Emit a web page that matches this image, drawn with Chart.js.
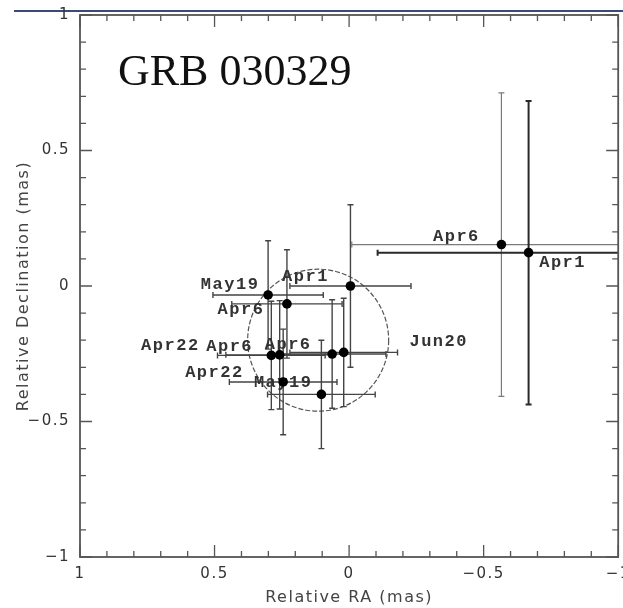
<!DOCTYPE html>
<html>
<head>
<meta charset="utf-8">
<script src="https://cdn.jsdelivr.net/npm/chart.js@4.4.1/dist/chart.umd.min.js"></script>
<style>
  html, body { margin: 0; padding: 0; background: #fff; }
  #wrap { position: relative; width: 623px; height: 608px; }
</style>
</head>
<body>
<div id="wrap"><canvas id="positionChart"></canvas></div>
<script>
// VLBI positions of the afterglow, offsets relative to the reference point (mas)
const epochs     = ['Apr6', 'Apr1', 'Apr1', 'May19', 'Apr6', 'Apr22', 'Apr6', 'Apr6', 'Jun20', 'May19', 'Apr22'];
const raOffsets  = [-0.566, -0.667, -0.005, 0.301, 0.231, 0.289, 0.258, 0.063, 0.020, 0.245, 0.103];
const decOffsets = [0.153, 0.123, 0.000, -0.033, -0.066, -0.256, -0.254, -0.251, -0.245, -0.354, -0.400];
const raErrors   = [0.556, 0.561, 0.225, 0.205, 0.205, 0.200, 0.200, 0.200, 0.200, 0.200, 0.200];
const decErrors  = [0.560, 0.560, 0.300, 0.200, 0.200, 0.200, 0.200, 0.200, 0.200, 0.195, 0.200];
const axisTicks  = [-1, -0.5, 0, 0.5, 1];
// fitted source region
const regionCentre = { ra: 0.115, dec: -0.200 };
const regionRadius = 0.262;

// where each epoch label sits relative to its point (px)
const labelOffsets = [[-45, -8], [34, 10], [-45, -9], [-38, -10], [-46, 6], [-101, -10],
                      [-50, -8], [-44, -9], [95, -11], [0, 1], [-107, -22]];
// bar styles: the two early wide-field points stand out
const barColors = ['#7a7a7a', '#2a2a2a', '#444', '#444', '#444', '#444', '#444', '#444', '#444', '#444', '#444'];
const barWidths = [1.2, 2, 1.4, 1.4, 1.4, 1.4, 1.4, 1.4, 1.4, 1.4, 1.4];

function fmt(v) {
  return v === 0 ? '0' : String(v).replace('-', '\u2212');
}

const plotDecor = {
  id: 'plotDecor',
  beforeDraw(chart) {
    const ctx = chart.ctx;
    ctx.letterSpacing = '1.5px';
    ctx.save();
    ctx.strokeStyle = '#3d4a78';
    ctx.lineWidth = 2;
    ctx.beginPath();
    ctx.moveTo(14, 11);
    ctx.lineTo(chart.width, 11);
    ctx.stroke();
    ctx.restore();
  },
  beforeDatasetsDraw(chart) {
    const ctx = chart.ctx;
    const xs = chart.scales.x, ys = chart.scales.y;
    const a = chart.chartArea;
    ctx.save();
    ctx.beginPath();
    ctx.rect(a.left, a.top, a.right - a.left, a.bottom - a.top);
    ctx.clip();

    // source region
    const cx = xs.getPixelForValue(regionCentre.ra);
    const cy = ys.getPixelForValue(regionCentre.dec);
    const rx = Math.abs(xs.getPixelForValue(regionCentre.ra + regionRadius) - cx);
    const ry = Math.abs(ys.getPixelForValue(regionCentre.dec + regionRadius) - cy);
    ctx.strokeStyle = '#555';
    ctx.lineWidth = 1.2;
    ctx.setLineDash([5, 2]);
    ctx.beginPath();
    ctx.ellipse(cx, cy, rx, ry, 0, 0, Math.PI * 2);
    ctx.stroke();
    ctx.setLineDash([]);

    // error bars with small end caps
    const cap = 3;
    for (let i = 0; i < epochs.length; i++) {
      const px = xs.getPixelForValue(raOffsets[i]);
      const py = ys.getPixelForValue(decOffsets[i]);
      const xa = xs.getPixelForValue(raOffsets[i] + raErrors[i]);
      const xb = xs.getPixelForValue(raOffsets[i] - raErrors[i]);
      const ya = ys.getPixelForValue(decOffsets[i] + decErrors[i]);
      const yb = ys.getPixelForValue(decOffsets[i] - decErrors[i]);
      ctx.strokeStyle = barColors[i];
      ctx.lineWidth = barWidths[i];
      ctx.beginPath();
      ctx.moveTo(xa, py); ctx.lineTo(xb, py);
      ctx.moveTo(xa, py - cap); ctx.lineTo(xa, py + cap);
      ctx.moveTo(xb, py - cap); ctx.lineTo(xb, py + cap);
      ctx.moveTo(px, ya); ctx.lineTo(px, yb);
      ctx.moveTo(px - cap, ya); ctx.lineTo(px + cap, ya);
      ctx.moveTo(px - cap, yb); ctx.lineTo(px + cap, yb);
      ctx.stroke();
    }

    // epoch labels
    ctx.fillStyle = '#333';
    ctx.font = 'bold 17px "Liberation Mono"';
    ctx.textAlign = 'center';
    ctx.textBaseline = 'middle';
    for (let i = 0; i < epochs.length; i++) {
      const px = xs.getPixelForValue(raOffsets[i]);
      const py = ys.getPixelForValue(decOffsets[i]);
      ctx.fillText(epochs[i], px + labelOffsets[i][0], py + labelOffsets[i][1]);
    }
    ctx.restore();
  },
  afterDatasetsDraw(chart) {
    const ctx = chart.ctx;
    const xs = chart.scales.x, ys = chart.scales.y;
    const a = chart.chartArea;
    ctx.save();
    ctx.strokeStyle = '#555';
    ctx.lineWidth = 1.8;
    ctx.strokeRect(a.left, a.top, a.right - a.left, a.bottom - a.top);

    // inward ticks on all four sides, minor every 0.1
    ctx.lineWidth = 1.3;
    ctx.beginPath();
    for (let k = -10; k <= 10; k++) {
      const v = k / 10;
      const len = (k % 5 === 0) ? 12 : 6;
      const x = xs.getPixelForValue(v);
      const y = ys.getPixelForValue(v);
      ctx.moveTo(x, a.bottom); ctx.lineTo(x, a.bottom - len);
      ctx.moveTo(x, a.top);    ctx.lineTo(x, a.top + len);
      ctx.moveTo(a.left, y);   ctx.lineTo(a.left + len, y);
      ctx.moveTo(a.right, y);  ctx.lineTo(a.right - len, y);
    }
    ctx.stroke();

    ctx.letterSpacing = '0px';
    ctx.fillStyle = '#111';
    ctx.font = '44px "Liberation Serif"';
    ctx.textAlign = 'left';
    ctx.textBaseline = 'alphabetic';
    ctx.fillText('GRB 030329', a.left + 38, a.top + 70);
    ctx.restore();
  }
};

function fixTicks(scale) {
  scale.ticks = axisTicks.map(v => ({ value: v }));
}

new Chart(document.getElementById('positionChart'), {
  type: 'scatter',
  data: {
    datasets: [{
      data: raOffsets.map((ra, i) => ({ x: ra, y: decOffsets[i] })),
      backgroundColor: '#000',
      borderWidth: 0,
      pointRadius: 4.8,
      pointHoverRadius: 4.8
    }]
  },
  options: {
    responsive: true,
    maintainAspectRatio: false,
    animation: false,
    layout: { padding: { left: 0, right: 4, top: 15, bottom: 0 } },
    plugins: { legend: { display: false }, tooltip: { enabled: false } },
    scales: {
      x: {
        type: 'linear',
        min: -1, max: 1,
        reverse: true,
        afterBuildTicks: fixTicks,
        afterFit(scale) { scale.height = 51; scale.paddingLeft = 0; scale.paddingRight = 0; },
        grid: { display: false, drawTicks: false },
        border: { display: false },
        ticks: {
          padding: 8,
          color: '#333',
          font: { family: '"DejaVu Sans"', size: 15 },
          callback: fmt,
          maxRotation: 0,
          autoSkip: false
        },
        title: {
          display: true,
          text: 'Relative RA (mas)',
          color: '#444',
          font: { family: '"DejaVu Sans"', size: 16 },
          padding: { top: 0, bottom: 1 }
        }
      },
      y: {
        type: 'linear',
        min: -1, max: 1,
        afterBuildTicks: fixTicks,
        afterFit(scale) { scale.width = 80; scale.paddingTop = 0; scale.paddingBottom = 0; },
        grid: { display: false, drawTicks: false },
        border: { display: false },
        ticks: {
          padding: 10,
          color: '#333',
          font: { family: '"DejaVu Sans"', size: 15 },
          callback: fmt,
          autoSkip: false
        },
        title: {
          display: true,
          text: 'Relative Declination (mas)',
          color: '#444',
          font: { family: '"DejaVu Sans"', size: 16 },
          padding: { top: 14, bottom: 0 }
        }
      }
    }
  },
  plugins: [plotDecor]
});
</script>
</body>
</html>
